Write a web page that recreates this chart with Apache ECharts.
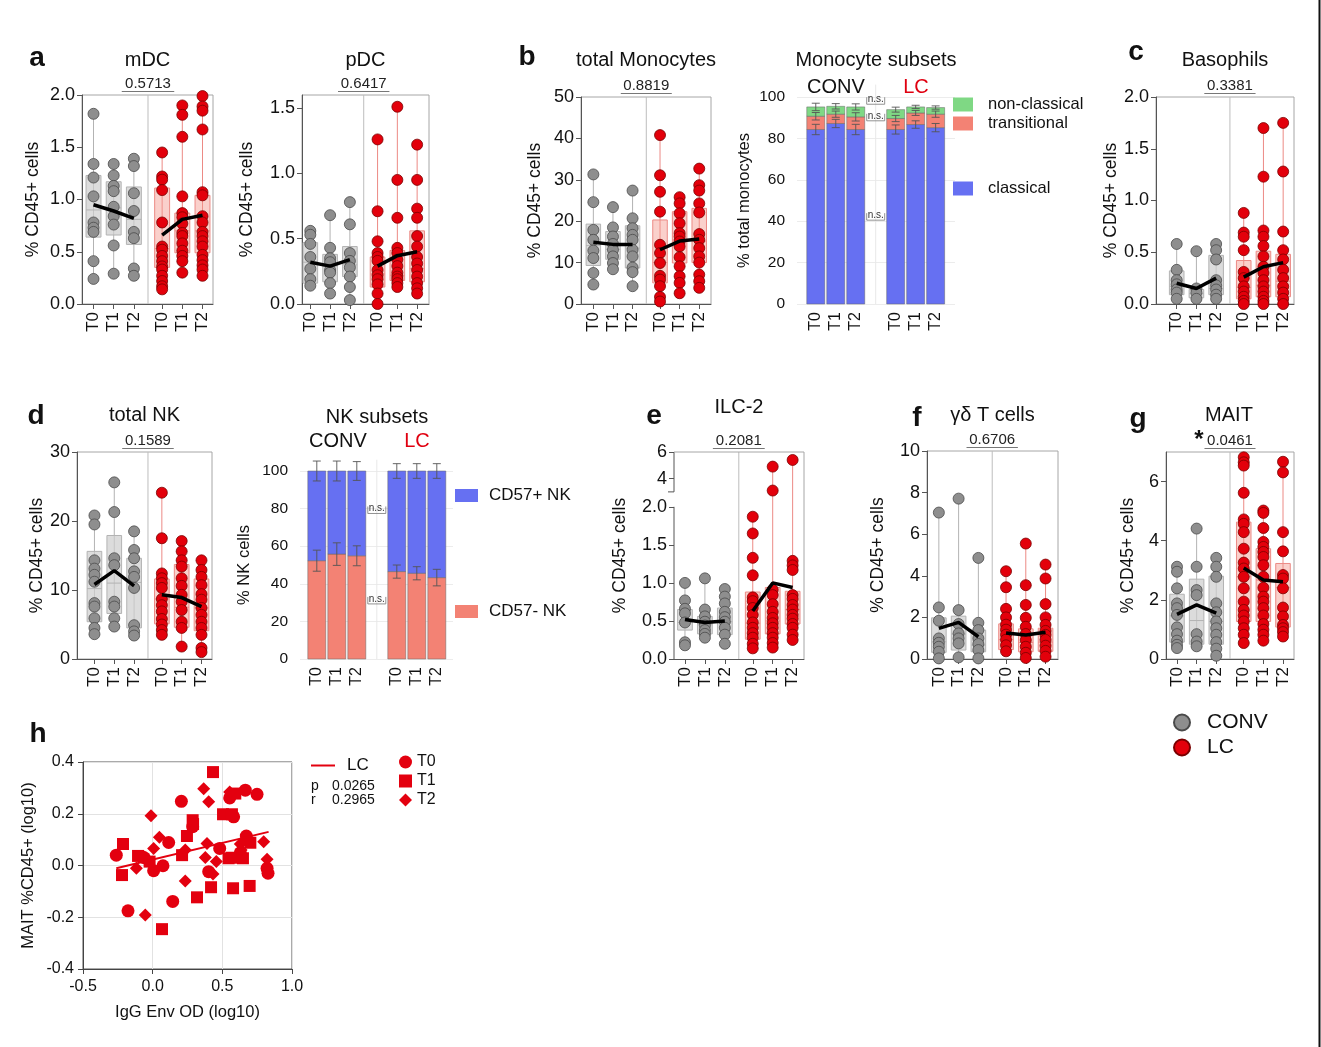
<!DOCTYPE html>
<html>
<head>
<meta charset="utf-8">
<script src="https://cdn.jsdelivr.net/npm/echarts@6/dist/echarts.min.js"></script>
<style>
  html, body { margin: 0; padding: 0; background: #fff; }
  #chart { width: 1321px; height: 1047px; }
</style>
</head>
<body>
<div id="chart"></div>
<script>
const FONT = '"Liberation Sans", Arial, sans-serif';

// shared labels / positions of the six groups (CONV T0-T2, LC T0-T2)
const tLabels = ['T0', 'T1', 'T2', 'T0', 'T1', 'T2'];
const xPos = [0, 1, 2, 3.4, 4.4, 5.4];
const barPos = [0, 1, 2, 4, 5, 6];
const pValues = ['0.5713', '0.6417', '0.8819', '0.3381', '0.1589', '0.2081', '0.6706', '0.0461'];

// a - mDC
const mdcPoints = [
  [1.82, 1.34, 1.21, 1.03, 0.78, 0.73, 0.69, 0.41, 0.24],
  [1.34, 1.23, 1.13, 1.08, 0.93, 0.84, 0.76, 0.56, 0.29],
  [1.39, 1.32, 1.06, 0.89, 0.69, 0.63, 0.34, 0.27],
  [1.45, 1.22, 1.19, 1.09, 0.78, 0.55, 0.52, 0.46, 0.41, 0.36, 0.33, 0.27, 0.22, 0.17, 0.14],
  [1.90, 1.81, 1.60, 1.03, 0.87, 0.83, 0.77, 0.68, 0.65, 0.58, 0.51, 0.46, 0.41, 0.30],
  [1.99, 1.89, 1.85, 1.67, 1.07, 1.04, 0.84, 0.78, 0.69, 0.65, 0.60, 0.55, 0.47, 0.42, 0.37, 0.33, 0.27]
];
const mdcBoxes = [[0.64, 0.90, 1.23], [0.66, 0.92, 1.17], [0.57, 0.81, 1.12], [0.35, 0.53, 1.11], [0.49, 0.70, 0.87], [0.49, 0.70, 1.04]];
const mdcMeans = [0.95, 0.89, 0.82, 0.66, 0.81, 0.85];

// a - pDC
const pdcPoints = [
  [0.56, 0.53, 0.46, 0.36, 0.27, 0.19, 0.14],
  [0.68, 0.43, 0.35, 0.32, 0.26, 0.24, 0.16, 0.08],
  [0.78, 0.61, 0.39, 0.33, 0.28, 0.21, 0.13, 0.03],
  [1.26, 0.71, 0.48, 0.39, 0.36, 0.33, 0.26, 0.22, 0.19, 0.15, 0.08, 0.0],
  [1.51, 0.95, 0.66, 0.43, 0.39, 0.34, 0.29, 0.24, 0.21, 0.19, 0.16, 0.13],
  [1.22, 0.95, 0.73, 0.66, 0.52, 0.44, 0.36, 0.31, 0.26, 0.21, 0.16, 0.12, 0.08]
];
const pdcBoxes = [[0.16, 0.32, 0.47], [0.17, 0.29, 0.38], [0.21, 0.30, 0.44], [0.13, 0.23, 0.36], [0.18, 0.22, 0.41], [0.17, 0.27, 0.56]];
const pdcMeans = [0.32, 0.29, 0.34, 0.29, 0.37, 0.40];

// b - total monocytes
const monoPoints = [
  [31.3, 24.6, 17.9, 15.5, 12.9, 11.1, 7.5, 4.7],
  [23.4, 18.5, 16.3, 14.5, 13.1, 11.5, 9.9, 8.4],
  [27.4, 20.7, 18.3, 16.7, 15.5, 13.1, 11.5, 8.8, 7.7, 4.3],
  [40.8, 31.1, 27.1, 22.3, 14.3, 12.3, 9.9, 6.8, 5.9, 4.3, 1.7, 0.6],
  [25.8, 24.3, 21.9, 19.5, 17.1, 16.3, 15.1, 13.9, 11.3, 9.1, 6.7, 5.1, 2.6],
  [32.7, 28.7, 27.4, 24.3, 22.1, 16.9, 15.5, 13.5, 11.5, 10.0, 7.1, 5.5, 3.9]
];
const monoBoxes = [[9.3, 14.1, 19.3], [10.8, 13.2, 17.5], [8.7, 13.5, 18.9], [5.1, 10.0, 20.3], [9.9, 15.5, 22.3], [10.0, 15.2, 23.1]];
const monoMeans = [14.9, 14.4, 14.4, 13.1, 15.2, 15.7];

// b - monocyte subsets (stacked %, mean and error)
const monoClassical = [84.3, 87.2, 84.3, 84.3, 86.7, 85.2];
const monoTransitional = [6.4, 4.5, 6.1, 5.3, 5.6, 6.5];
const monoNonClassical = [4.5, 3.8, 4.8, 4.3, 2.9, 3.2];
const monoClassicalErr = [2.5, 2.0, 2.5, 2.2, 1.8, 2.0];
const monoTransitionalErr = [1.8, 1.5, 2.0, 1.5, 1.2, 1.5];
const monoNonClassicalErr = [1.8, 1.3, 1.5, 1.2, 0.8, 0.8];
const monoNs = [96.5, 88.5, 40.5];

// c - basophils
const basoPoints = [
  [0.58, 0.33, 0.23, 0.19, 0.14, 0.11, 0.05],
  [0.51, 0.15, 0.11, 0.05],
  [0.58, 0.52, 0.43, 0.23, 0.18, 0.14, 0.09, 0.05],
  [0.88, 0.69, 0.65, 0.52, 0.31, 0.25, 0.17, 0.12, 0.07, 0.03, 0.0],
  [1.70, 1.23, 0.71, 0.65, 0.56, 0.46, 0.36, 0.30, 0.23, 0.17, 0.12, 0.07, 0.03, 0.0],
  [1.75, 1.28, 0.70, 0.52, 0.43, 0.33, 0.25, 0.17, 0.11, 0.05, 0.0]
];
const basoBoxes = [[0.09, 0.17, 0.32], [0.06, 0.10, 0.14], [0.09, 0.15, 0.47], [0.05, 0.16, 0.42], [0.07, 0.18, 0.51], [0.07, 0.22, 0.48]];
const basoMeans = [0.20, 0.15, 0.25, 0.26, 0.36, 0.40];

// d - total NK
const nkPoints = [
  [20.8, 19.5, 14.3, 13.1, 12.2, 11.2, 8.1, 7.6, 5.9, 4.5, 3.6],
  [25.6, 21.3, 14.6, 13.6, 8.3, 7.6, 5.9, 4.7],
  [18.5, 15.8, 14.6, 12.7, 11.9, 10.3, 4.9, 4.0, 3.4],
  [24.1, 17.5, 12.4, 11.7, 11.0, 10.3, 8.7, 7.8, 6.9, 5.8, 5.0, 4.2, 3.5],
  [17.1, 15.6, 14.3, 13.4, 11.7, 10.6, 9.3, 8.3, 7.1, 5.4, 4.5, 1.8],
  [14.3, 12.9, 11.9, 10.7, 9.4, 8.6, 7.4, 6.4, 5.4, 4.5, 3.5, 1.6, 1.0]
];
const nkBoxes = [[5.4, 10.2, 15.6], [6.6, 11.0, 17.9], [4.5, 11.1, 14.6], [5.1, 8.7, 11.6], [4.6, 7.5, 13.7], [4.1, 7.4, 11.6]];
const nkMeans = [10.8, 12.8, 10.6, 9.3, 8.9, 7.6];

// d - NK subsets
const nkMinus = [52.3, 55.8, 54.9, 46.5, 45.6, 43.3];
const nkPlus = [47.7, 44.2, 45.1, 53.5, 54.4, 56.7];
const nkMinusErr = [5.6, 6.0, 5.3, 3.5, 3.5, 4.4];
const nkPlusErr = [5.3, 5.3, 5.0, 3.9, 3.9, 3.9];
const nkNs = [77.4, 29.3];

// e - ILC-2
const ilcPoints = [
  [1.00, 0.77, 0.66, 0.60, 0.48, 0.22, 0.18],
  [1.06, 0.65, 0.56, 0.49, 0.44, 0.38, 0.33, 0.28],
  [0.92, 0.82, 0.73, 0.62, 0.55, 0.49, 0.41, 0.32, 0.20],
  [1.87, 1.65, 1.33, 1.10, 0.81, 0.76, 0.67, 0.58, 0.48, 0.41, 0.34, 0.28, 0.20, 0.14],
  [4.9, 3.1, 0.91, 0.84, 0.72, 0.62, 0.54, 0.47, 0.41, 0.34, 0.28, 0.21, 0.15],
  [5.4, 1.29, 1.23, 1.17, 0.84, 0.79, 0.71, 0.65, 0.58, 0.53, 0.46, 0.41, 0.32, 0.25]
];
const ilcBoxes = [[0.38, 0.48, 0.65], [0.33, 0.45, 0.56], [0.32, 0.49, 0.67], [0.26, 0.47, 0.88], [0.33, 0.50, 0.94], [0.46, 0.65, 0.89]];
const ilcMeans = [0.52, 0.48, 0.50, 0.63, 1.00, 0.94];

// f - gamma delta T cells
const gdPoints = [
  [7.04, 2.48, 1.84, 0.99, 0.78, 0.59, 0.35, 0.03],
  [7.71, 2.35, 1.68, 1.23, 0.99, 0.75, 0.08],
  [4.86, 1.74, 1.39, 0.99, 0.72, 0.43, 0.03],
  [4.22, 3.45, 2.41, 2.0, 1.65, 1.41, 1.17, 0.93, 0.66, 0.37],
  [5.55, 3.55, 2.6, 1.98, 1.55, 1.2, 0.91, 0.59, 0.3, 0.05],
  [4.54, 3.87, 2.64, 2.0, 1.64, 1.35, 1.16, 0.92, 0.64, 0.39, 0.11]
];
const gdBoxes = [[0.32, 0.83, 1.98], [0.43, 1.2, 2.06], [0.35, 0.67, 1.39], [0.45, 0.93, 1.69], [0.35, 0.8, 1.45], [0.37, 0.81, 1.48]];
const gdMeans = [1.47, 1.76, 1.07, 1.25, 1.15, 1.29];

// g - MAIT
const maitPoints = [
  [3.12, 2.95, 2.39, 1.88, 1.72, 1.49, 1.07, 0.84, 0.62, 0.48, 0.37],
  [4.41, 3.12, 2.33, 2.16, 0.84, 0.59, 0.43],
  [3.42, 3.12, 2.78, 1.88, 1.58, 1.27, 1.04, 0.82, 0.57, 0.35, 0.11],
  [6.82, 6.65, 6.54, 5.62, 4.72, 4.57, 4.29, 3.73, 3.26, 3.06, 2.78, 2.39, 1.94, 1.66, 1.47, 1.27, 1.04, 0.82, 0.54],
  [5.02, 4.94, 4.43, 3.96, 3.79, 3.62, 3.45, 3.17, 2.78, 2.41, 2.11, 1.94, 1.72, 1.47, 1.18, 0.99, 0.82, 0.62],
  [6.67, 6.31, 4.29, 3.64, 2.84, 2.72, 2.39, 1.74, 1.44, 1.15, 1.04, 0.91, 0.76]
];
const maitBoxes = [[0.57, 1.46, 2.19], [0.50, 1.3, 2.70], [0.50, 1.27, 2.80], [1.27, 2.78, 4.63], [1.27, 2.67, 3.73], [1.08, 2.41, 3.23]];
const maitMeans = [1.51, 1.83, 1.55, 3.08, 2.67, 2.61];

// h - MAIT vs IgG Env OD
const hT0 = [[-0.261, 0.040], [0.206, 0.248], [0.115, 0.089], [0.074, -0.001], [0.007, -0.020], [-0.177, -0.175],
  [0.144, -0.139], [0.287, 0.150], [0.481, 0.066], [0.553, 0.261], [0.665, 0.291], [0.749, 0.275], [0.581, 0.188],
  [0.672, 0.114], [0.629, 0.049], [0.402, -0.024], [0.821, -0.011], [0.828, -0.030], [-0.077, 0.034], [-0.06, 0.03]];
const hT1 = [[-0.213, 0.083], [-0.220, -0.037], [-0.105, 0.037], [-0.022, 0.015], [0.067, -0.246], [0.211, 0.040],
  [0.246, 0.114], [0.287, 0.175], [0.318, -0.123], [0.419, -0.084], [0.433, 0.361], [0.505, 0.198], [0.569, 0.198],
  [0.593, 0.278], [0.545, 0.028], [0.569, 0.030], [0.648, 0.028], [0.701, 0.088], [0.577, -0.088], [0.696, -0.079], [0.29, 0.16]];
const hT2 = [[-0.012, 0.192], [-0.117, -0.011], [0.007, 0.066], [0.048, 0.109], [-0.053, -0.191], [0.234, -0.060],
  [0.234, 0.060], [0.366, 0.297], [0.402, 0.246], [0.390, 0.085], [0.378, 0.031], [0.433, -0.033], [0.457, 0.015],
  [0.553, 0.284], [0.629, 0.083], [0.797, 0.092], [0.821, 0.024], [0.635, 0.06]];
const hFit = [[-0.261, -0.011], [0.832, 0.130]];
const hStats = ['0.0265', '0.2965'];

// ---------------------------------------------------------------
const GRAY = { dot: '#8e8e8e', edge: '#4a4a4a', fill: 'rgba(205,205,205,0.7)', line: '#b3b3b3' };
const RED = { dot: '#e3000b', edge: '#7a0000', fill: 'rgba(244,150,140,0.45)', line: '#ec8a85' };
const BLUE = '#6670f2', SALMON = '#f38274', GREEN = '#7fd884';

const ident = v => v;
// broken y axis of ILC-2: 0-2 linear, 3-6 compressed
const ilcScale = v => (v <= 2.1 ? v : 2.1965 + (v - 3) * 0.1747);

function labelAt(pos, text, v) {
  for (let i = 0; i < pos.length; i++) if (Math.abs(pos[i] - v) < 1e-6) return text[i];
  return '';
}

const boxPanels = [
  { title: 'mDC', rect: [82, 95, 131, 209], xr: [-0.57, 5.92], ymax: 2, ticks: [0, 0.5, 1, 1.5, 2], dec: 1, points: mdcPoints, boxes: mdcBoxes, means: mdcMeans, p: pValues[0], nameDist: 49 },
  { title: 'pDC', rect: [302, 95, 127, 209], xr: [-0.42, 6.0], ymax: 1.6, ticks: [0, 0.5, 1, 1.5], dec: 1, points: pdcPoints, boxes: pdcBoxes, means: pdcMeans, p: pValues[1], nameDist: 55 },
  { title: 'total Monocytes', rect: [581, 97, 130, 207], xr: [-0.63, 6.0], ymax: 50, ticks: [0, 10, 20, 30, 40, 50], dec: 0, points: monoPoints, boxes: monoBoxes, means: monoMeans, p: pValues[2], nameDist: 46 },
  { title: 'Basophils', rect: [1156, 97, 138, 207], xr: [-1.05, 5.95], ymax: 2, ticks: [0, 0.5, 1, 1.5, 2], dec: 1, points: basoPoints, boxes: basoBoxes, means: basoMeans, p: pValues[3], nameDist: 41 },
  { title: 'total NK', rect: [77, 452, 135, 207], xr: [-0.88, 5.93], ymax: 30, ticks: [0, 10, 20, 30], dec: 0, points: nkPoints, boxes: nkBoxes, means: nkMeans, p: pValues[4], nameDist: 39 },
  { title: 'ILC-2', rect: [674, 452, 130, 207], xr: [-0.55, 5.97], ymax: 6, ticks: [0, 0.5, 1, 1.5, 2, 4, 6], tickText: ['0.0', '0.5', '1.0', '1.5', '2.0', '4', '6'], points: ilcPoints, boxes: ilcBoxes, means: ilcMeans, p: pValues[5], nameDist: 54, tf: ilcScale, broken: true },
  { title: 'γδ T cells', rect: [927, 451, 131, 208], xr: [-0.6, 6.03], ymax: 10, ticks: [0, 2, 4, 6, 8, 10], dec: 0, points: gdPoints, boxes: gdBoxes, means: gdMeans, p: pValues[6], nameDist: 49 },
  { title: 'MAIT', rect: [1166, 452, 128, 207], xr: [-0.56, 5.96], ymax: 7, ticks: [0, 2, 4, 6], dec: 0, points: maitPoints, boxes: maitBoxes, means: maitMeans, p: pValues[7], nameDist: 38, star: true }
];

const grids = [], xAxes = [], yAxes = [], series = [];

function renderBox(params, api) {
  const i = api.value(6);
  const st = i < 3 ? GRAY : RED;
  const x = api.value(0);
  const bw = api.size([0.74, 0])[0];
  const lo = api.coord([x, api.value(4)]);
  const hi = api.coord([x, api.value(5)]);
  const q1 = api.coord([x, api.value(1)]);
  const md = api.coord([x, api.value(2)]);
  const q3 = api.coord([x, api.value(3)]);
  return {
    type: 'group',
    children: [
      { type: 'line', shape: { x1: lo[0], y1: lo[1], x2: hi[0], y2: hi[1] }, style: { stroke: st.line, lineWidth: 1 } },
      { type: 'rect', shape: { x: q3[0] - bw / 2, y: q3[1], width: bw, height: q1[1] - q3[1] }, style: { fill: st.fill, stroke: st.line, lineWidth: 1 } },
      { type: 'line', shape: { x1: md[0] - bw / 2, y1: md[1], x2: md[0] + bw / 2, y2: md[1] }, style: { stroke: st.line, lineWidth: 1 } }
    ]
  };
}

function makeAnnot(p) {
  return function (params, api) {
    const top = p.tf(p.ymax);
    const div = api.value(0);
    const b = api.coord([div, 0]);
    const t = api.coord([div, top]);
    const l = api.coord([div - 1.3, top]);
    const r = api.coord([div + 1.3, top]);
    const kids = [
      { type: 'line', shape: { x1: b[0], y1: b[1], x2: t[0], y2: t[1] }, style: { stroke: '#bdbdbd', lineWidth: 1 } },
      { type: 'line', shape: { x1: l[0], y1: t[1] - 3.5, x2: r[0], y2: t[1] - 3.5 }, style: { stroke: '#777', lineWidth: 1 } },
      { type: 'text', x: (l[0] + r[0]) / 2, y: t[1] - 11.5, style: { text: p.p, font: '15px ' + FONT, fill: '#222', align: 'center', verticalAlign: 'middle', textAlign: 'center', textVerticalAlign: 'middle' } }
    ];
    if (p.star) {
      kids.push({ type: 'text', x: l[0] - 1, y: t[1] - 12, style: { text: '*', font: 'bold 24px ' + FONT, fill: '#111', align: 'right', verticalAlign: 'middle', textAlign: 'right', textVerticalAlign: 'middle' } });
    }
    if (p.broken) {
      const a0 = api.coord([p.xr[0], 0]);
      const a1 = api.coord([p.xr[0], 2]);
      const a2 = api.coord([p.xr[0], p.tf(3)]);
      const a3 = api.coord([p.xr[0], top]);
      const r0 = api.coord([p.xr[1], 0]);
      const r3 = api.coord([p.xr[1], top]);
      const ax = { stroke: '#555', lineWidth: 1 };
      kids.push(
        { type: 'line', shape: { x1: a0[0], y1: a0[1], x2: a1[0], y2: a1[1] }, style: ax },
        { type: 'line', shape: { x1: a2[0], y1: a2[1], x2: a3[0], y2: a3[1] }, style: ax },
        { type: 'line', shape: { x1: a2[0] - 6, y1: a2[1], x2: a2[0], y2: a2[1] }, style: ax },
        { type: 'line', shape: { x1: a3[0], y1: a3[1], x2: r3[0], y2: r3[1] }, style: { stroke: '#a6a6a6', lineWidth: 1 } },
        { type: 'line', shape: { x1: r0[0], y1: r0[1], x2: r3[0], y2: r3[1] }, style: { stroke: '#a6a6a6', lineWidth: 1 } }
      );
    }
    return { type: 'group', children: kids };
  };
}

boxPanels.forEach((p) => {
  p.tf = p.tf || ident;
  const gi = grids.length;
  const tickPos = p.ticks.map(p.tf);
  const tickText = p.tickText || p.ticks.map(t => t.toFixed(p.dec));
  grids.push({ left: p.rect[0], top: p.rect[1], width: p.rect[2], height: p.rect[3], show: !p.broken, borderColor: '#a6a6a6', borderWidth: 1 });
  xAxes.push({
    gridIndex: gi, type: 'value', min: p.xr[0], max: p.xr[1],
    axisLine: { show: true, onZero: false, lineStyle: { color: '#555' } },
    axisTick: { show: true, customValues: xPos, length: 5, lineStyle: { color: '#555' } },
    axisLabel: { customValues: xPos, rotate: 90, fontSize: 17, fontFamily: FONT, color: '#111', margin: 8, formatter: v => labelAt(xPos, tLabels, v) },
    splitLine: { show: false }
  });
  yAxes.push({
    gridIndex: gi, type: 'value', min: 0, max: p.tf(p.ymax),
    axisLine: { show: !p.broken, onZero: false, lineStyle: { color: '#555' } },
    axisTick: { show: true, customValues: tickPos, length: 5, lineStyle: { color: '#555' } },
    axisLabel: { customValues: tickPos, fontSize: 18, fontFamily: FONT, color: '#111', margin: 7, formatter: v => labelAt(tickPos, tickText, v) },
    splitLine: { show: false },
    name: '% CD45+ cells', nameLocation: 'middle', nameGap: p.nameDist - 9,
    nameTextStyle: { fontSize: 17.5, fontFamily: FONT, color: '#111' }
  });
  series.push({
    type: 'custom', xAxisIndex: gi, yAxisIndex: gi, z: 2, silent: true,
    renderItem: renderBox, encode: { x: 0, y: [1, 2, 3, 4, 5] },
    data: xPos.map((x, i) => [x, p.tf(p.boxes[i][0]), p.tf(p.boxes[i][1]), p.tf(p.boxes[i][2]),
      p.tf(Math.min(...p.points[i])), p.tf(Math.max(...p.points[i])), i])
  });
  ['CONV', 'LC'].forEach((name, g) => {
    const st = g ? RED : GRAY;
    const pts = [];
    for (let i = g * 3; i < g * 3 + 3; i++) p.points[i].forEach(v => pts.push([xPos[i], p.tf(v)]));
    series.push({
      type: 'scatter', name, xAxisIndex: gi, yAxisIndex: gi, z: 3, symbolSize: 11,
      itemStyle: { color: st.dot, borderColor: st.edge, borderWidth: 0.8, opacity: 1 }, data: pts
    });
    series.push({
      type: 'line', xAxisIndex: gi, yAxisIndex: gi, z: 4, symbol: 'none', silent: true,
      lineStyle: { color: '#000', width: 3.5 },
      data: [0, 1, 2].map(j => [xPos[g * 3 + j], p.tf(p.means[g * 3 + j])])
    });
  });
  series.push({
    type: 'custom', xAxisIndex: gi, yAxisIndex: gi, z: 1, silent: true, clip: false,
    renderItem: makeAnnot(p), encode: { x: 0, y: 1 }, data: [[2.7, 0]]
  });
});

// ---------------- stacked subset panels ----------------
function makeBar(barW) {
  return function (params, api) {
    const x = api.value(0);
    const a = api.coord([x, api.value(1)]);
    const b = api.coord([x, api.value(2)]);
    return {
      type: 'rect',
      shape: { x: a[0] - barW / 2, y: b[1], width: barW, height: a[1] - b[1] },
      style: { fill: api.visual('color'), stroke: '#666', lineWidth: 0.5 }
    };
  };
}

function renderErr(params, api) {
  const x = api.value(0), top = api.value(1), e = api.value(2);
  const hi = api.coord([x, top + e]);
  const lo = api.coord([x, top - e]);
  const cw = 4;
  const s = { stroke: '#555', lineWidth: 0.9 };
  return {
    type: 'group',
    children: [
      { type: 'line', shape: { x1: hi[0], y1: hi[1], x2: lo[0], y2: lo[1] }, style: s },
      { type: 'line', shape: { x1: hi[0] - cw, y1: hi[1], x2: hi[0] + cw, y2: hi[1] }, style: s },
      { type: 'line', shape: { x1: lo[0] - cw, y1: lo[1], x2: lo[0] + cw, y2: lo[1] }, style: s }
    ]
  };
}

function renderNs(params, api) {
  const c = api.coord([api.value(0), api.value(1)]);
  const hw = 9;
  return {
    type: 'group',
    children: [
      { type: 'polyline', shape: { points: [[c[0] - hw, c[1] - 7], [c[0] - hw, c[1]], [c[0] + hw, c[1]], [c[0] + hw, c[1] - 7]] }, style: { stroke: '#777', lineWidth: 0.8, fill: 'none' } },
      { type: 'text', x: c[0], y: c[1] - 5, style: { text: 'n.s.', font: '10px ' + FONT, fill: '#333', align: 'center', verticalAlign: 'middle', textAlign: 'center', textVerticalAlign: 'middle' } }
    ]
  };
}

function renderGap(params, api) {
  const b = api.coord([api.value(0), 0]);
  const t = api.coord([api.value(0), 106]);
  return { type: 'line', shape: { x1: b[0], y1: b[1], x2: t[0], y2: t[1] }, style: { stroke: '#e8e8e8', lineWidth: 1 } };
}

function subsetPanel(rect, xr, yName, nameGap, barW, layers, nsLevels) {
  const gi = grids.length;
  grids.push({ left: rect[0], top: rect[1], width: rect[2], height: rect[3], show: false });
  xAxes.push({
    gridIndex: gi, type: 'value', min: xr[0], max: xr[1],
    axisLine: { show: false }, axisTick: { show: false }, splitLine: { show: false },
    axisLabel: { customValues: barPos, rotate: 90, fontSize: 16, fontFamily: FONT, color: '#111', margin: 8, formatter: v => labelAt(barPos, tLabels, v) }
  });
  yAxes.push({
    gridIndex: gi, type: 'value', min: 0, max: 100, interval: 20,
    axisLine: { show: false }, axisTick: { show: false },
    splitLine: { show: true, lineStyle: { color: '#ececec', width: 1 } },
    axisLabel: { fontSize: 15.5, fontFamily: FONT, color: '#111', margin: 12 },
    name: yName, nameLocation: 'middle', nameGap: nameGap,
    nameTextStyle: { fontSize: 16.5, fontFamily: FONT, color: '#111' }
  });
  series.push({ type: 'custom', xAxisIndex: gi, yAxisIndex: gi, z: 1, silent: true, clip: false, renderItem: renderGap, encode: { x: 0, y: 1 }, data: [[3, 0]] });
  const cum = [0, 0, 0, 0, 0, 0];
  const errData = [];
  layers.forEach((L) => {
    const data = barPos.map((x, i) => [x, cum[i], cum[i] + L.values[i]]);
    series.push({
      type: 'custom', name: L.name, xAxisIndex: gi, yAxisIndex: gi, z: 2,
      itemStyle: { color: L.color }, renderItem: makeBar(barW), encode: { x: 0, y: [1, 2] }, data
    });
    L.values.forEach((v, i) => { cum[i] += v; errData.push([barPos[i], cum[i], L.err[i]]); });
  });
  series.push({ type: 'custom', xAxisIndex: gi, yAxisIndex: gi, z: 5, silent: true, clip: false, renderItem: renderErr, encode: { x: 0, y: 1 }, data: errData });
  series.push({ type: 'custom', xAxisIndex: gi, yAxisIndex: gi, z: 5, silent: true, clip: false, renderItem: renderNs, encode: { x: 0, y: 1 }, data: nsLevels.map(v => [3, v]) });
}

subsetPanel([797, 97, 158, 207], [-0.94, 6.97], '% total monocytes', 44, 18, [
  { name: 'classical', color: BLUE, values: monoClassical, err: monoClassicalErr },
  { name: 'transitional', color: SALMON, values: monoTransitional, err: monoTransitionalErr },
  { name: 'non-classical', color: GREEN, values: monoNonClassical, err: monoNonClassicalErr }
], monoNs);

subsetPanel([300, 471, 153, 188], [-0.84, 6.81], '% NK cells', 47, 18, [
  { name: 'CD57- NK', color: SALMON, values: nkMinus, err: nkMinusErr },
  { name: 'CD57+ NK', color: BLUE, values: nkPlus, err: nkPlusErr }
], nkNs);

// ---------------- h scatter ----------------
const hg = grids.length;
grids.push({ left: 83, top: 762, width: 209, height: 207, show: true, borderColor: '#555', borderWidth: 1 });
xAxes.push({
  gridIndex: hg, type: 'value', min: -0.5, max: 1.0, interval: 0.5,
  axisLine: { onZero: false, lineStyle: { color: '#444' } },
  axisTick: { length: 5, lineStyle: { color: '#444' } },
  axisLabel: { fontSize: 16, fontFamily: FONT, color: '#111', margin: 10, formatter: v => v.toFixed(1) },
  splitLine: { show: true, lineStyle: { color: '#e2e2e2' } },
  name: 'IgG Env OD (log10)', nameLocation: 'middle', nameGap: 35,
  nameTextStyle: { fontSize: 16.5, fontFamily: FONT, color: '#111' }
});
yAxes.push({
  gridIndex: hg, type: 'value', min: -0.4, max: 0.4, interval: 0.2,
  axisLine: { onZero: false, lineStyle: { color: '#444' } },
  axisTick: { length: 5, lineStyle: { color: '#444' } },
  axisLabel: { fontSize: 16, fontFamily: FONT, color: '#111', margin: 9, formatter: v => v.toFixed(1) },
  splitLine: { show: true, lineStyle: { color: '#e2e2e2' } },
  name: 'MAIT %CD45+ (log10)', nameLocation: 'middle', nameGap: 46,
  nameTextStyle: { fontSize: 16.5, fontFamily: FONT, color: '#111' }
});
const HRED = '#e3000f';
series.push({ type: 'scatter', name: 'T0', xAxisIndex: hg, yAxisIndex: hg, symbol: 'circle', symbolSize: 13, itemStyle: { color: HRED, opacity: 1 }, data: hT0 });
series.push({ type: 'scatter', name: 'T1', xAxisIndex: hg, yAxisIndex: hg, symbol: 'rect', symbolSize: 12, itemStyle: { color: HRED, opacity: 1 }, data: hT1 });
series.push({ type: 'scatter', name: 'T2', xAxisIndex: hg, yAxisIndex: hg, symbol: 'diamond', symbolSize: 13, itemStyle: { color: HRED, opacity: 1 }, data: hT2 });
series.push({ type: 'line', name: 'LC fit', xAxisIndex: hg, yAxisIndex: hg, symbol: 'none', z: 4, lineStyle: { color: HRED, width: 2 }, itemStyle: { color: HRED }, data: hFit });

// ---------------- texts ----------------
function txt(text, x, y, size, opts = {}) {
  return {
    type: 'text', x, y, silent: true,
    style: {
      text, fill: opts.color || '#111', font: (opts.bold ? 'bold ' : '') + size + 'px ' + FONT,
      align: opts.align || 'center', verticalAlign: 'middle',
      textAlign: opts.align || 'center', textVerticalAlign: 'middle'
    }
  };
}
const graphics = [];
[['a', 37, 58], ['b', 527, 57], ['c', 1136, 52], ['d', 36, 416], ['e', 654, 416], ['f', 917, 418], ['g', 1138, 419], ['h', 38, 734]]
  .forEach(l => graphics.push(txt(l[0], l[1], l[2], 28, { bold: true })));
boxPanels.forEach(p => graphics.push(txt(p.title, p.rect[0] + p.rect[2] / 2 + (p.title === 'MAIT' ? -1 : 0), p.rect[1] < 200 ? 60 : (p.title === 'ILC-2' ? 407 : 415), 20)));
graphics.push(txt('Monocyte subsets', 876, 60, 20));
graphics.push(txt('NK subsets', 377, 417, 20));
graphics.push(txt('CONV', 836, 87, 20));
graphics.push(txt('LC', 916, 87, 20, { color: '#e00010' }));
graphics.push(txt('CONV', 338, 441, 20));
graphics.push(txt('LC', 417, 441, 20, { color: '#e00010' }));
graphics.push(txt('p', 311, 786, 14, { align: 'left' }));
graphics.push(txt('r', 311, 800, 14, { align: 'left' }));
graphics.push(txt(hStats[0], 332, 786, 14, { align: 'left' }));
graphics.push(txt(hStats[1], 332, 800, 14, { align: 'left' }));
graphics.push({ type: 'line', silent: true, shape: { x1: 1319.5, y1: 0, x2: 1319.5, y2: 1047 }, style: { stroke: '#111', lineWidth: 2 } });

function legendOf(data, left, top, extra, textExtra) {
  return Object.assign({
    data, left, top, orient: 'vertical', padding: 0, selectedMode: false,
    textStyle: Object.assign({ fontFamily: FONT, color: '#111', fontSize: 16.5 }, textExtra || {})
  }, extra);
}
const legends = [
  legendOf(['CONV', 'LC'], 1173, 712, { icon: 'circle', itemWidth: 16, itemHeight: 16, itemGap: 4 }, { fontSize: 21, padding: [0, 0, 0, 12] }),
  legendOf(['non-classical'], 953, 96, { icon: 'rect', itemWidth: 20, itemHeight: 14 }, { padding: [0, 0, 0, 10] }),
  legendOf(['transitional'], 953, 115, { icon: 'rect', itemWidth: 20, itemHeight: 14 }, { padding: [0, 0, 0, 10] }),
  legendOf(['classical'], 953, 180, { icon: 'rect', itemWidth: 20, itemHeight: 14 }, { padding: [0, 0, 0, 10] }),
  legendOf(['CD57+ NK'], 455, 487, { icon: 'rect', itemWidth: 23, itemHeight: 13 }, { fontSize: 17, padding: [0, 0, 0, 6] }),
  legendOf(['CD57- NK'], 455, 603, { icon: 'rect', itemWidth: 23, itemHeight: 13 }, { fontSize: 17, padding: [0, 0, 0, 6] }),
  legendOf(['LC fit'], 311, 757, { icon: 'rect', itemWidth: 24, itemHeight: 2, formatter: () => 'LC' }, { fontSize: 17, padding: [0, 0, 0, 7] }),
  legendOf(['T0', 'T1', 'T2'], 399, 754, { itemWidth: 13, itemHeight: 13, itemGap: 3 }, { fontSize: 16 })
];

const chart = echarts.init(document.getElementById('chart'), null, { renderer: 'canvas' });
chart.setOption({
  backgroundColor: '#fff',
  animation: false,
  textStyle: { fontFamily: FONT },
  grid: grids,
  xAxis: xAxes,
  yAxis: yAxes,
  legend: legends,
  series: series,
  graphic: graphics
});
</script>
</body>
</html>
